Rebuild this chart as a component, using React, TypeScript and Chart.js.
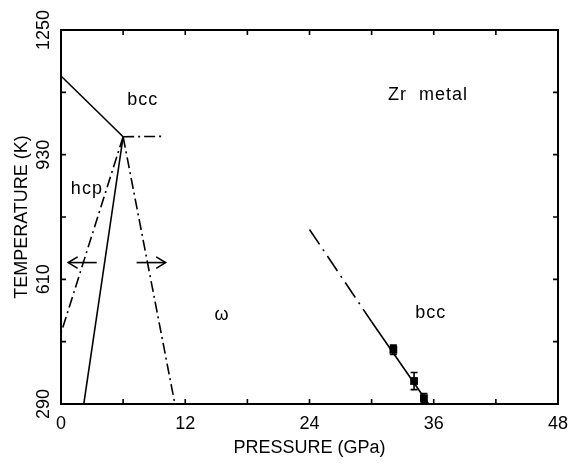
import React, { useEffect, useRef } from "react";
import { Chart, registerables } from "chart.js";

Chart.register(...registerables);

const FONT = '"Liberation Sans", Arial, Helvetica, sans-serif';

// Axes
const xTicks = [0, 12, 24, 36, 48];
const yTicks = [290, 610, 930, 1250];
const xMinorStep = 6;
const yMinorStep = 160;

// Phase boundaries (pressure GPa, temperature K)
const bccHcpBoundary = [
  { x: 0, y: 1132 },
  { x: 6.0, y: 976 },
];
const bccOmegaTripleExtension = [
  { x: 6.0, y: 976 },
  { x: 9.9, y: 977 },
];
const hcpOmegaBoundary = [
  { x: 6.0, y: 976 },
  { x: 2.2, y: 290 },
];
const hysteresisLeft = [
  { x: 6.0, y: 976 },
  { x: 0, y: 472 },
];
const hysteresisRight = [
  { x: 6.0, y: 976 },
  { x: 11.0, y: 290 },
];
const arrowLeft = [
  { x: 3.45, y: 653 },
  { x: 0.7, y: 653 },
];
const arrowRight = [
  { x: 7.3, y: 653 },
  { x: 10.1, y: 653 },
];
const omegaBccExtrapolated = [
  { x: 24, y: 738 },
  { x: 30, y: 501 },
];
const omegaBccBoundary = [
  { x: 30, y: 501 },
  { x: 35.5, y: 290 },
];

// Measured points
const measuredPressure = [32.1, 34.1, 35.05];
const measuredTemperature = [429, 349, 305];
const measuredTempError = [12, 22, 12];

// Labels
const annotationTexts = ["bcc", "hcp", "\u03c9", "bcc", "Zr  metal"];
const annotationX = [7.9, 2.5, 15.55, 35.7, 35.45];
const annotationY = [1070, 842, 518, 523, 1083];

const lineDs = (data: any[], dash: number[] = [], extra: any = {}) => ({
  data,
  showLine: true,
  borderColor: "#000",
  borderWidth: 1.6,
  borderDash: dash,
  pointRadius: 0,
  fill: false,
  ...extra,
});

const DASH_DOT = [11, 4, 2, 4];
const LONG_DASH_DOT = [18, 6, 2, 6];

const decorPlugin = {
  id: "decor",
  afterDatasetsDraw(chart: any) {
    const ctx = chart.ctx;
    const { left, right, top, bottom } = chart.chartArea;
    const xs = chart.scales.x;
    const ys = chart.scales.y;
    ctx.save();
    ctx.strokeStyle = "#000";
    ctx.fillStyle = "#000";

    // arrowheads
    chart.data.datasets.forEach((ds: any) => {
      if (!ds.arrow) return;
      const n = ds.data.length;
      const p1 = ds.data[n - 2];
      const p2 = ds.data[n - 1];
      const x1 = xs.getPixelForValue(p1.x);
      const y1 = ys.getPixelForValue(p1.y);
      const x2 = xs.getPixelForValue(p2.x);
      const y2 = ys.getPixelForValue(p2.y);
      const ang = Math.atan2(y2 - y1, x2 - x1);
      const len = 11;
      const spread = 0.55;
      ctx.lineWidth = 1.6;
      ctx.setLineDash([]);
      ctx.beginPath();
      ctx.moveTo(x2 - len * Math.cos(ang - spread), y2 - len * Math.sin(ang - spread));
      ctx.lineTo(x2, y2);
      ctx.lineTo(x2 - len * Math.cos(ang + spread), y2 - len * Math.sin(ang + spread));
      ctx.stroke();
    });

    // error bars
    chart.data.datasets.forEach((ds: any) => {
      if (!ds.yErr) return;
      ds.data.forEach((p: any, i: number) => {
        const e = ds.yErr[i];
        const px = xs.getPixelForValue(p.x);
        const yTop = ys.getPixelForValue(p.y + e);
        const yBot = ys.getPixelForValue(p.y - e);
        ctx.lineWidth = 1.6;
        ctx.beginPath();
        ctx.moveTo(px, yTop);
        ctx.lineTo(px, yBot);
        ctx.moveTo(px - 3.5, yTop);
        ctx.lineTo(px + 3.5, yTop);
        ctx.moveTo(px - 3.5, yBot);
        ctx.lineTo(px + 3.5, yBot);
        ctx.stroke();
      });
    });

    // frame
    ctx.lineWidth = 2;
    ctx.strokeRect(left, top, right - left, bottom - top);

    // inner tick marks
    const tl = 5;
    ctx.lineWidth = 1.6;
    ctx.beginPath();
    for (let v = xs.min; v <= xs.max + 1e-9; v += xMinorStep) {
      const px = xs.getPixelForValue(v);
      ctx.moveTo(px, bottom);
      ctx.lineTo(px, bottom - tl);
      ctx.moveTo(px, top);
      ctx.lineTo(px, top + tl);
    }
    for (let v = ys.min; v <= ys.max + 1e-9; v += yMinorStep) {
      const py = ys.getPixelForValue(v);
      ctx.moveTo(left, py);
      ctx.lineTo(left + tl, py);
      ctx.moveTo(right, py);
      ctx.lineTo(right - tl, py);
    }
    ctx.stroke();

    // rotated y tick labels
    ctx.font = `18px ${FONT}`;
    ctx.textAlign = "center";
    ctx.textBaseline = "middle";
    yTicks.forEach((v) => {
      const py = ys.getPixelForValue(v);
      ctx.save();
      ctx.translate(left - 17, py);
      ctx.rotate(-Math.PI / 2);
      ctx.fillText(String(v), 0, 0);
      ctx.restore();
    });

    // annotations
    try {
      (ctx as any).letterSpacing = "1px";
    } catch (e) {}
    annotationTexts.forEach((t, i) => {
      ctx.fillText(t, xs.getPixelForValue(annotationX[i]), ys.getPixelForValue(annotationY[i]));
    });
    ctx.restore();
  },
};

export default function App() {
  const ref = useRef<HTMLCanvasElement>(null);
  useEffect(() => {
    document.body.style.margin = "0";
    const canvas = ref.current!;
    const chart = new Chart(canvas, {
      type: "scatter",
      data: {
        datasets: [
          lineDs(bccHcpBoundary),
          lineDs(bccOmegaTripleExtension, DASH_DOT),
          lineDs(hcpOmegaBoundary),
          lineDs(hysteresisLeft, DASH_DOT),
          lineDs(hysteresisRight, DASH_DOT),
          lineDs(arrowLeft, [], { arrow: true }),
          lineDs(arrowRight, [], { arrow: true }),
          lineDs(omegaBccExtrapolated, LONG_DASH_DOT),
          lineDs(omegaBccBoundary),
          {
            data: measuredPressure.map((x, i) => ({ x, y: measuredTemperature[i] })),
            yErr: measuredTempError,
            showLine: false,
            pointStyle: "rect",
            pointRadius: 5.5,
            backgroundColor: "#000",
            borderColor: "#000",
            borderWidth: 0,
          } as any,
        ],
      },
      options: {
        animation: false,
        responsive: false,
        events: [],
        layout: { padding: { left: 0, right: 11, top: 30, bottom: 0 } },
        plugins: { legend: { display: false }, tooltip: { enabled: false } },
        scales: {
          x: {
            type: "linear",
            min: 0,
            max: 48,
            afterBuildTicks: (s: any) => {
              s.ticks = xTicks.map((v) => ({ value: v }));
            },
            ticks: {
              font: { family: FONT, size: 18 },
              color: "#000",
              padding: 9,
              maxRotation: 0,
              autoSkip: false,
            },
            grid: { display: false, drawTicks: false },
            border: { display: false },
            title: {
              display: true,
              text: "PRESSURE (GPa)",
              font: { family: FONT, size: 18 },
              color: "#000",
              padding: { top: 0, bottom: 5 },
            },
            afterFit: (s: any) => {
              s.height = 60;
              s.paddingLeft = 0;
              s.paddingRight = 0;
            },
          },
          y: {
            type: "linear",
            min: 290,
            max: 1250,
            afterBuildTicks: (s: any) => {
              s.ticks = yTicks.map((v) => ({ value: v }));
            },
            ticks: { display: false },
            grid: { display: false, drawTicks: false },
            border: { display: false },
            title: {
              display: true,
              text: "TEMPERATURE (K)",
              font: { family: FONT, size: 18 },
              color: "#000",
              padding: { top: 11, bottom: 0 },
            },
            afterFit: (s: any) => {
              s.width = 61;
              s.paddingTop = 0;
              s.paddingBottom = 0;
            },
          },
        },
      } as any,
      plugins: [decorPlugin],
    });
    return () => chart.destroy();
  }, []);
  return (
    <div style={{ width: 569, height: 464 }}>
      <canvas ref={ref} width={569} height={464} style={{ display: "block" }} />
    </div>
  );
}
